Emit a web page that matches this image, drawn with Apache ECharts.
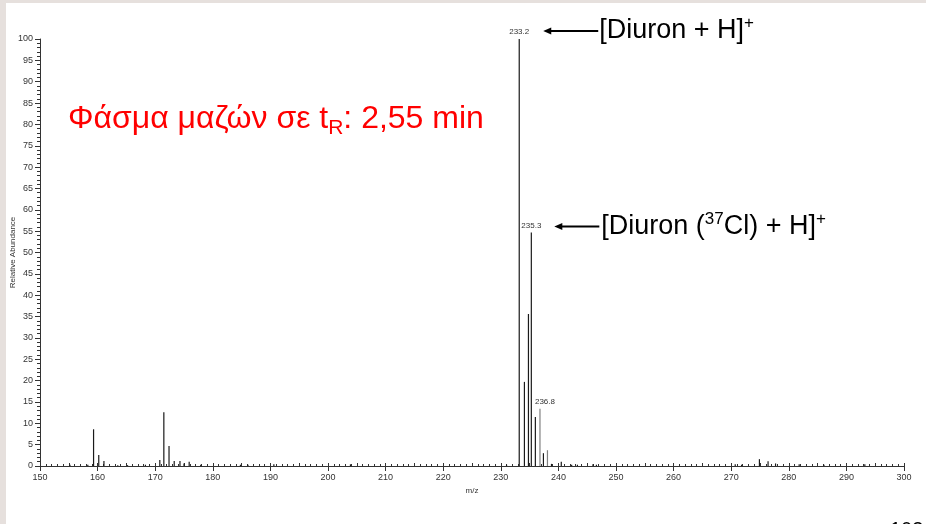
<!DOCTYPE html>
<html>
<head>
<meta charset="utf-8">
<script src="https://cdn.jsdelivr.net/npm/echarts@6/dist/echarts.min.js"></script>
<style>
html,body{margin:0;padding:0;background:#e6e0dd;width:926px;height:524px;overflow:hidden;}
#c{position:absolute;left:6px;top:3px;width:920px;height:521px;background:#fff;}
</style>
</head>
<body>
<div id="c"></div>
<script>
// ---- data ----
const mzValues = [155.2, 158.3, 159.3, 160.2, 161.1, 163.5, 165.2, 168.3, 170.8, 171.5, 172.4, 173.3, 174.3, 175.0, 175.9, 177.9, 184.8, 186.1, 190.6, 203.9, 231.0,
                  233.2, 234.1, 234.8, 235.3, 236.0, 236.8, 237.4, 238.1, 238.8, 240.5, 242.3, 243.3, 246.0, 246.6,
                  270.7, 271.8, 274.9, 276.4, 277.7, 281.8, 286.1, 293.2];
const abundance = [0.3, 0.3, 8.6, 2.6, 1.2, 0.2, 0.2, 0.3, 1.4, 12.6, 4.7, 1.2, 1.2, 0.6, 1.0, 0.3, 0.3, 0.3, 0.4, 0.4, 0.3,
                   100, 19.7, 35.6, 54.7, 11.5, 13.4, 3.0, 3.7, 0.5, 1.0, 0.3, 0.3, 0.4, 0.3,
                   0.4, 0.3, 1.6, 1.1, 0.6, 0.4, 0.3, 0.4];
const labeledPeaks = [233.2, 235.3, 236.8];
const xTickLabels = [150,160,170,180,190,200,210,220,230,240,250,260,270,280,290,300];
const yTickLabels = [0,5,10,15,20,25,30,35,40,45,50,55,60,65,70,75,80,85,90,95,100];
const titleText = 'Φάσμα μαζών σε t';
const titleSub = 'R';
const titleRest = ': 2,55 min';
const ann1 = '[Diuron + H]';
const ann2a = '[Diuron (';
const ann2iso = '37';
const ann2b = 'Cl) + H]';
const pageNum = '103';

// ---- style ----
const greyPeaks = [236.8, 238.1];
const labelOffsets = {236.8: [5, 0]};
const axisColor = '#333';
const font = '"Liberation Sans", Arial, sans-serif';

const chart = echarts.init(document.getElementById('c'), null, {renderer: 'canvas'});

const seriesData = mzValues.map((m, i) => {
  const item = {value: [m, abundance[i]]};
  if (greyPeaks.includes(m)) item.itemStyle = {color: '#808080'};
  if (labeledPeaks.includes(m)) {
    item.label = {show: true, position: 'top', distance: 3, formatter: m.toFixed(1),
      offset: labelOffsets[m] || [0, 0],
      fontSize: 8, color: '#333', fontFamily: font};
  }
  return item;
});

const xMin = xTickLabels[0], xMax = xTickLabels[xTickLabels.length - 1];

chart.setOption({
  animation: false,
  grid: {left: 34, right: 22, top: 36, bottom: 58, containLabel: false, outerBoundsMode: 'none'},
  xAxis: [{
    type: 'value', min: xMin, max: xMax, interval: 10,
    name: 'm/z', nameLocation: 'middle', nameGap: 21, nameMoveOverlap: false,
    nameTextStyle: {fontSize: 8, color: axisColor, fontFamily: font},
    axisLine: {show: true, lineStyle: {color: axisColor, width: 1}},
    axisTick: {show: true, length: 5, lineStyle: {color: axisColor}},
    axisLabel: {fontSize: 9, color: axisColor, fontFamily: font, margin: 7,
      formatter: v => xTickLabels.includes(v) ? String(v) : ''},
    splitLine: {show: false}
  }, {
    type: 'value', min: xMin, max: xMax, interval: 5, position: 'bottom',
    axisLine: {show: false},
    axisTick: {show: true, inside: true, length: 3, lineStyle: {color: axisColor}},
    minorTick: {show: true, splitNumber: 5, length: 2, lineStyle: {color: axisColor}},
    axisLabel: {show: false},
    splitLine: {show: false}
  }],
  yAxis: {
    type: 'value', min: 0, max: 100, interval: 5,
    name: 'Relative Abundance', nameLocation: 'middle', nameGap: 23, nameRotate: 90, nameMoveOverlap: false,
    nameTextStyle: {fontSize: 8, color: axisColor, fontFamily: font},
    axisLine: {show: true, lineStyle: {color: axisColor, width: 1}},
    axisTick: {show: true, length: 5, lineStyle: {color: axisColor}},
    minorTick: {show: true, splitNumber: 5, length: 3, lineStyle: {color: axisColor}},
    axisLabel: {fontSize: 9, color: axisColor, fontFamily: font, margin: 7,
      formatter: v => yTickLabels.includes(v) ? String(v) : ''},
    splitLine: {show: false}
  },
  series: [{
    type: 'bar', xAxisIndex: 0, yAxisIndex: 0,
    data: seriesData, barWidth: 1.2,
    itemStyle: {color: '#1a1a1a'},
    label: {show: false}
  }]
});

// annotations anchored to the data
const p1 = chart.convertToPixel({gridIndex: 0}, [labeledPeaks[0], 100]);
const p2 = chart.convertToPixel({gridIndex: 0}, [labeledPeaks[1], abundance[mzValues.indexOf(labeledPeaks[1])]]);

function arrow(tipX, tailX, y) {
  return [
    {type: 'line', shape: {x1: tipX + 6, y1: y, x2: tailX, y2: y}, style: {stroke: '#000', lineWidth: 2}},
    {type: 'polygon', shape: {points: [[tipX, y], [tipX + 8, y - 3.5], [tipX + 8, y + 3.5]]}, style: {fill: '#000'}}
  ];
}

const a1y = p1[1] - 8;
const a2y = p2[1] - 6;

const annRich = {
  m: {fontSize: 27, fontFamily: font, fill: '#000', lineHeight: 32, verticalAlign: 'middle'},
  p: {fontSize: 17, fontFamily: font, fill: '#000', lineHeight: 32, verticalAlign: 'top'}
};

chart.setOption({
  graphic: [
    {type: 'text', left: 62, top: 100, style: {
      text: '{m|' + titleText + '}{s|' + titleSub + '}{m|' + titleRest + '}',
      rich: {
        m: {fontSize: 32, fontFamily: font, fill: '#ff0000', lineHeight: 40, verticalAlign: 'middle'},
        s: {fontSize: 21, fontFamily: font, fill: '#ff0000', lineHeight: 40, verticalAlign: 'bottom'}
      }}},
    ...arrow(p1[0] + 24, p1[0] + 79, a1y),
    {type: 'text', x: p1[0] + 80, y: a1y, style: {
      text: '{m|' + ann1 + '}{p|+}', verticalAlign: 'middle', rich: annRich}},
    ...arrow(p2[0] + 23, p2[0] + 68, a2y),
    {type: 'text', x: p2[0] + 70, y: a2y, style: {
      text: '{m|' + ann2a + '}{p|' + ann2iso + '}{m|' + ann2b + '}{p|+}', verticalAlign: 'middle', rich: annRich}},
    {type: 'text', left: 884, top: 517, style: {text: pageNum, fontSize: 20, fontFamily: font, fill: '#000'}}
  ]
});
</script>
</body>
</html>
